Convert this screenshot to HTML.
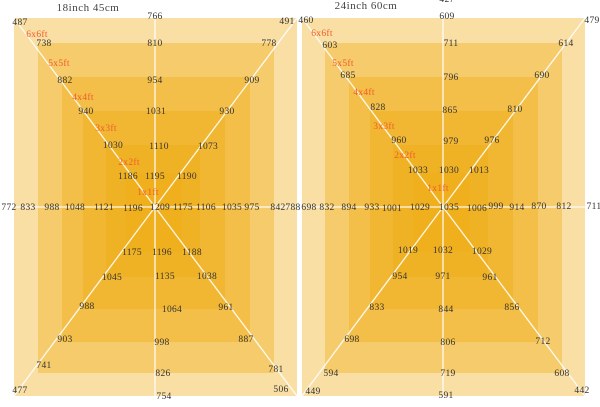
<!DOCTYPE html>
<html><head><meta charset="utf-8"><style>
html,body{margin:0;padding:0;background:#fff;}
svg{display:block}
text{font-family:"Liberation Serif",serif;font-size:9.5px;letter-spacing:0.3px;fill:#333;text-anchor:middle}
.r{fill:#f25a2a}
.t{font-size:11px;fill:#444;letter-spacing:0.5px}
</style></head><body>
<svg width="600" height="407" viewBox="0 0 600 407">
<g fill="rgb(240,172,15)" fill-opacity="0.38">
<rect x="14" y="18" width="283" height="378"/>
<rect x="38" y="43" width="236" height="330"/>
<rect x="62" y="77" width="188" height="265"/>
<rect x="83" y="111" width="142" height="198"/>
<rect x="106" y="145" width="94" height="132"/>
<rect x="126" y="173" width="56" height="79"/>
<rect x="302" y="18" width="283" height="378"/>
<rect x="325" y="43" width="237" height="330"/>
<rect x="349" y="77" width="189" height="265"/>
<rect x="370" y="111" width="143" height="198"/>
<rect x="393" y="145" width="95" height="132"/>
<rect x="413" y="173" width="57" height="79"/>
</g>
<g stroke="#fff" stroke-width="1.3" opacity="0.9">
<line x1="155" y1="18" x2="155" y2="402"/><line x1="14" y1="207" x2="297" y2="207"/>
<line x1="14" y1="18" x2="155" y2="207"/><line x1="297" y1="18" x2="155" y2="207"/>
<line x1="14" y1="396" x2="155" y2="207"/><line x1="297" y1="396" x2="155" y2="207"/>
<line x1="443" y1="18" x2="443" y2="402"/><line x1="302" y1="207" x2="585" y2="207"/>
<line x1="302" y1="18" x2="443" y2="207"/><line x1="585" y1="18" x2="443" y2="207"/>
<line x1="302" y1="396" x2="443" y2="207"/><line x1="585" y1="396" x2="443" y2="207"/>
</g>
<text class="t" x="88" y="11">18inch 45cm</text>
<text class="t" x="366" y="9">24inch 60cm</text>
<text x="447" y="2">427</text>
<g>
<text x="20" y="25">487</text><text x="155" y="19">766</text><text x="287" y="24">491</text>
<text class="r" x="37" y="37">6x6ft</text>
<text x="44" y="46">738</text><text x="155" y="46">810</text><text x="269" y="46">778</text>
<text class="r" x="59" y="66">5x5ft</text>
<text x="65" y="83">882</text><text x="155" y="83">954</text><text x="252" y="83">909</text>
<text class="r" x="83" y="100">4x4ft</text>
<text x="86" y="114">940</text><text x="156" y="114">1031</text><text x="227" y="114">930</text>
<text class="r" x="106" y="131">3x3ft</text>
<text x="113" y="148">1030</text><text x="159" y="149">1110</text><text x="208" y="149">1073</text>
<text class="r" x="129" y="165">2x2ft</text>
<text x="128" y="179">1186</text><text x="155" y="179">1195</text><text x="187" y="179">1190</text>
<text class="r" x="148" y="195">1x1ft</text>
<text x="9" y="210">772</text><text x="28" y="210">833</text><text x="52" y="210">988</text><text x="75" y="210">1048</text><text x="104" y="210">1121</text><text x="133" y="211">1196</text><text x="160" y="210">1209</text><text x="183" y="210">1175</text><text x="206" y="210">1106</text><text x="232" y="210">1035</text><text x="252" y="210">975</text><text x="278" y="210">842</text><text x="293" y="210">788</text>
<text x="132" y="255">1175</text><text x="162" y="255">1196</text><text x="192" y="255">1188</text>
<text x="112" y="280">1045</text><text x="165" y="279">1135</text><text x="207" y="279">1038</text>
<text x="87" y="309">988</text><text x="172" y="312">1064</text><text x="226" y="310">961</text>
<text x="65" y="342">903</text><text x="162" y="345">998</text><text x="246" y="342">887</text>
<text x="44" y="368">741</text><text x="163" y="376">826</text><text x="276" y="372">781</text>
<text x="20" y="393">477</text><text x="164" y="399">754</text><text x="281" y="392">506</text>
</g>
<g>
<text x="306" y="23">460</text><text x="447" y="19">609</text><text x="592" y="23">479</text>
<text class="r" x="322" y="36">6x6ft</text>
<text x="330" y="48">603</text><text x="451" y="46">711</text><text x="566" y="46">614</text>
<text class="r" x="343" y="66">5x5ft</text>
<text x="348" y="78">685</text><text x="451" y="80">796</text><text x="542" y="78">690</text>
<text class="r" x="364" y="95">4x4ft</text>
<text x="378" y="110">828</text><text x="450" y="113">865</text><text x="515" y="112">810</text>
<text class="r" x="384" y="129">3x3ft</text>
<text x="399" y="143">960</text><text x="451" y="144">979</text><text x="492" y="143">976</text>
<text class="r" x="405" y="158">2x2ft</text>
<text x="418" y="173">1033</text><text x="449" y="173">1030</text><text x="479" y="173">1013</text>
<text class="r" x="438" y="191">1x1ft</text>
<text x="309" y="210">698</text><text x="327" y="210">832</text><text x="349" y="210">894</text><text x="372" y="210">933</text><text x="392" y="211">1001</text><text x="420" y="210">1029</text><text x="449" y="210">1035</text><text x="477" y="211">1006</text><text x="496" y="209">999</text><text x="517" y="210">914</text><text x="539" y="209">870</text><text x="564" y="209">812</text><text x="594" y="209">711</text>
<text x="408" y="253">1019</text><text x="443" y="253">1032</text><text x="482" y="254">1029</text>
<text x="400" y="279">954</text><text x="443" y="279">971</text><text x="490" y="280">961</text>
<text x="377" y="310">833</text><text x="446" y="312">844</text><text x="512" y="310">856</text>
<text x="352" y="342">698</text><text x="448" y="345">806</text><text x="543" y="344">712</text>
<text x="331" y="376">594</text><text x="448" y="376">719</text><text x="562" y="376">608</text>
<text x="313" y="394">449</text><text x="446" y="398">591</text><text x="582" y="393">442</text>
</g>
</svg>
</body></html>
